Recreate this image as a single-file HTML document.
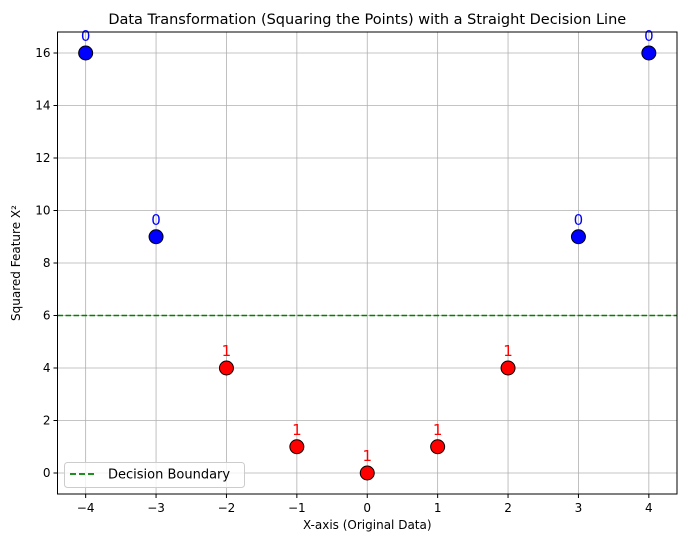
<!DOCTYPE html>
<html><head><meta charset="utf-8"><style>
body{margin:0;background:#fff;font-family:"Liberation Sans","DejaVu Sans",sans-serif}
svg text{font-family:"DejaVu Sans","Liberation Sans",sans-serif}
</style></head><body>
<svg id="chart" width="687" height="547" xmlns="http://www.w3.org/2000/svg"></svg>
<script>
const xValues=[-4,-3,-2,-1,0,1,2,3,4];
const yValues=[16,9,4,1,0,1,4,9,16];
const labels=[0,0,1,1,1,1,1,0,0];
const xTicks=[-4,-3,-2,-1,0,1,2,3,4];
const yTicks=[0,2,4,6,8,10,12,14,16];
const boundary=6;
const L=57.5,R=677,T=32,B=494;
const xmin=-4.4,xmax=4.4,ymin=-0.8,ymax=16.8;
const sx=v=>L+(v-xmin)/(xmax-xmin)*(R-L);
const sy=v=>B-(v-ymin)/(ymax-ymin)*(B-T);
const svg=document.getElementById('chart');
const NS='http://www.w3.org/2000/svg';
function mk(tag,attrs,parent){const e=document.createElementNS(NS,tag);for(const k in attrs)e.setAttribute(k,attrs[k]);(parent||svg).appendChild(e);return e;}
xTicks.forEach(t=>{
 const g=mk('line',{x1:sx(t),x2:sx(t),y1:T,y2:B,stroke:'#b0b0b0','stroke-width':0.8});
 
 
 mk('line',{x1:sx(t),x2:sx(t),y1:B,y2:B+4,stroke:'#000'});
 const tx=mk('text',{x:sx(t),y:B+18,'text-anchor':'middle','font-size':12});
 tx.textContent=(t<0?'\u2212'+(-t):t);
 
 
});
yTicks.forEach(t=>{
 const g=mk('line',{x1:L,x2:R,y1:sy(t),y2:sy(t),stroke:'#b0b0b0','stroke-width':0.8});
 
 
 mk('line',{x1:L-4,x2:L,y1:sy(t),y2:sy(t),stroke:'#000'});
 const tx=mk('text',{x:L-7,y:sy(t)+4,'text-anchor':'end','font-size':12});
 tx.textContent=t;
 
 
});
const bl=mk('line',{x1:L,x2:R,y1:sy(boundary),y2:sy(boundary),stroke:'green','stroke-width':1.5,'stroke-dasharray':'5.5,2.5'});


xValues.forEach((x,i)=>{
 const c=labels[i]===0?'blue':'red';
 const p=mk('circle',{cx:sx(x),cy:sy(yValues[i]),r:7,fill:c,stroke:'#000','stroke-width':1});
 
 
 const t=mk('text',{x:sx(x),y:sy(yValues[i])-12,'text-anchor':'middle','font-size':15,fill:c});
 t.textContent=labels[i];
 
 
});
const fr=mk('rect',{x:L,y:T,width:R-L,height:B-T,fill:'none',stroke:'#000','stroke-width':1});


const title=mk('text',{x:(L+R)/2,y:T-8,'text-anchor':'middle','font-size':14.5});
title.textContent='Data Transformation (Squaring the Points) with a Straight Decision Line';


const xt=mk('text',{x:(L+R)/2,y:B+35,'text-anchor':'middle','font-size':12});
xt.textContent='X-axis (Original Data)';


const yt=mk('text',{x:0,y:0,'text-anchor':'middle','font-size':12,transform:`translate(20,${(T+B)/2}) rotate(-90)`});
yt.textContent='Squared Feature X\u00b2';


const lg=mk('g',{});


mk('rect',{x:64.5,y:462.5,width:180,height:25,rx:3,fill:'#fff','fill-opacity':0.8,stroke:'#ccc'},lg);
mk('line',{x1:70,x2:97,y1:474,y2:474,stroke:'green','stroke-width':1.8,'stroke-dasharray':'6,3'},lg);
const lt=mk('text',{x:108,y:478.5,'font-size':13},lg);
lt.textContent='Decision Boundary';


</script>
</body></html>
